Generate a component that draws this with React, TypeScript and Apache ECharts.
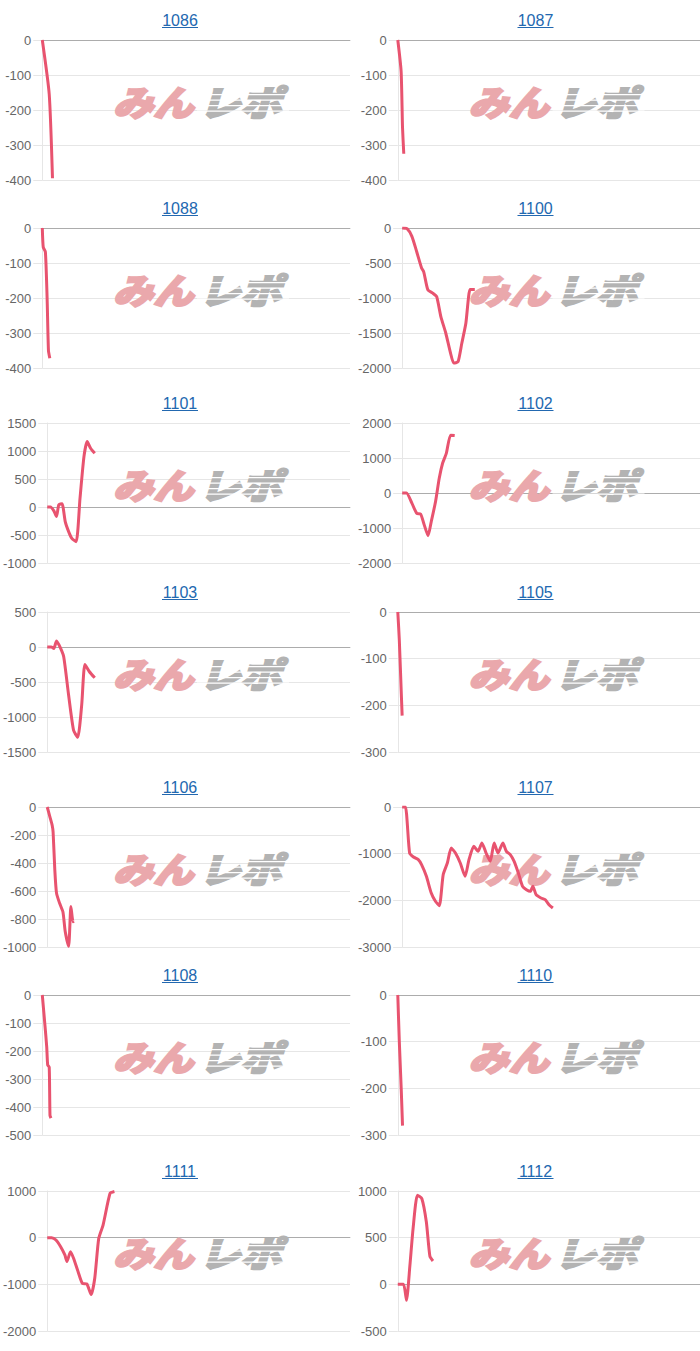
import React, { useEffect, useRef } from 'react';
import * as echarts from 'echarts';

// ---- data ----
const titles = ['1086', '1087', '1088', '1100', '1101', '1102', '1103', '1105', '1106', '1107', '1108', '1110', '1111', '1112'];
const yMax = [0, 0, 0, 0, 1500, 2000, 500, 0, 0, 0, 0, 0, 1000, 1000];
const yMin = [-400, -400, -400, -2000, -1000, -2000, -1500, -300, -1000, -3000, -500, -300, -2000, -500];
const yStep = [100, 100, 100, 500, 500, 1000, 500, 100, 200, 1000, 100, 100, 1000, 500];
const gamesMax = 8000;

// [games, medal difference]
const d1086 = [[0, 0], [180, -155], [265, -395]];
const d1087 = [[0, 0], [88, -90], [125, -250], [158, -325]];
const d1088 = [[0, 0], [25, -55], [80, -68], [125, -200], [160, -350], [195, -372]];
const d1100 = [[0, 0], [130, -10], [260, -120], [390, -340], [520, -570], [580, -630], [690, -885], [820, -930], [925, -980], [1040, -1270], [1170, -1500], [1300, -1790], [1385, -1930], [1500, -1910], [1600, -1650], [1710, -1360], [1820, -880], [1880, -880], [1950, -880]];
const d1101 = [[0, 0], [85, 0], [175, -70], [245, -170], [305, 40], [390, 60], [475, -260], [565, -440], [650, -560], [765, -620], [865, 150], [970, 900], [1055, 1170], [1145, 1050], [1255, 960]];
const d1102 = [[0, 0], [115, 0], [260, -290], [390, -580], [495, -600], [580, -870], [695, -1220], [780, -820], [895, -250], [995, 420], [1085, 850], [1185, 1130], [1300, 1650], [1410, 1640]];
const d1103 = [[0, 0], [105, 0], [175, -20], [245, 85], [345, -10], [435, -140], [565, -690], [695, -1190], [805, -1290], [910, -830], [995, -250], [1110, -350], [1255, -440]];
const d1105 = [[0, 0], [40, -60], [95, -180], [115, -222]];
const d1106 = [[0, 0], [70, -70], [130, -130], [155, -180], [200, -450], [245, -615], [330, -690], [415, -750], [475, -890], [565, -995], [625, -710], [680, -820], [700, -815]];
const d1107 = [[0, 0], [87, 0], [199, -986], [303, -1071], [433, -1129], [520, -1236], [650, -1486], [780, -1843], [893, -2021], [997, -2114], [1101, -1450], [1213, -1200], [1317, -879], [1430, -986], [1560, -1200], [1690, -1486], [1794, -1129], [1924, -843], [2037, -950], [2141, -771], [2253, -986], [2366, -1164], [2470, -771], [2574, -986], [2704, -771], [2799, -950], [2903, -1021], [3007, -1164], [3120, -1414], [3233, -1700], [3337, -1771], [3441, -1807], [3510, -1700], [3597, -1879], [3727, -1950], [3839, -1986], [3943, -2093], [4047, -2164]];
const d1108 = [[0, 0], [70, -110], [115, -185], [140, -250], [180, -258], [200, -430], [225, -440]];
const d1110 = [[0, 0], [40, -100], [90, -200], [125, -280]];
const d1111 = [[0, 0], [115, 0], [230, -50], [350, -190], [465, -370], [520, -510], [615, -300], [695, -440], [815, -730], [930, -980], [1045, -990], [1160, -1220], [1255, -870], [1360, -20], [1475, 270], [1660, 950], [1775, 990]];
const d1112 = [[0, 0], [150, 0], [230, -170], [320, 200], [405, 600], [520, 955], [635, 920], [755, 670], [850, 300], [930, 250]];

const seriesData = [d1086, d1087, d1088, d1100, d1101, d1102, d1103, d1105, d1106, d1107, d1108, d1110, d1111, d1112];

// ---- layout ----
const W = 700;
const H = 1351;
const rowTop = [40, 228, 423, 612, 807, 995, 1191];
const colX = [0, 355.5];
const colRight = [350, 705];
const plotH = 140;
const LINE = '#e8536f';
const GRID = '#e6e6e6';
const FONT = '"Liberation Sans", Arial, Helvetica, sans-serif';
const WM_FONT = 'italic 900 35px "Noto Sans CJK JP", sans-serif';

function buildOption() {
  const grid: any[] = [];
  const xAxis: any[] = [];
  const yAxis: any[] = [];
  const series: any[] = [];
  const graphic: any[] = [];

  titles.forEach((t, i) => {
    const r = Math.floor(i / 2);
    const c = i % 2;
    const top = rowTop[r];
    const longest = Math.max(String(yMin[i]).length, String(yMax[i]).length);
    const axisX = colX[c] + (longest >= 5 ? 46.7 : 42.3);
    grid.push({ left: axisX, top, width: colRight[c] - axisX, height: plotH, containLabel: false });
    xAxis.push({
      gridIndex: i, type: 'value', min: 0, max: gamesMax,
      axisLine: { show: true, onZero: true, lineStyle: { color: 'rgba(0,0,0,0.25)', width: 1 } },
      axisTick: { show: false }, axisLabel: { show: false }, splitLine: { show: false },
    });
    yAxis.push({
      gridIndex: i, type: 'value', min: yMin[i], max: yMax[i], interval: yStep[i],
      axisLine: { show: true, onZero: false, lineStyle: { color: GRID } },
      axisTick: { show: true, length: 9, lineStyle: { color: GRID } },
      axisLabel: {
        color: '#666', fontSize: 13, margin: 11, fontFamily: FONT,
        formatter: (v: number) => String(v),
      },
      splitLine: { show: true, lineStyle: { color: GRID, width: 1 } },
    });
    series.push({
      type: 'line', xAxisIndex: i, yAxisIndex: i, data: seriesData[i],
      showSymbol: false, symbol: 'none', smooth: 0.2, z: 5,
      lineStyle: { color: LINE, width: 3 },
    });

    const tx = colX[c] + 180;
    const ty = top - 20;
    graphic.push({
      type: 'text', x: tx, y: ty, z: 10,
      style: { text: t, fill: '#2268b0', font: `16px ${FONT}`, textAlign: 'center', textVerticalAlign: 'middle' },
    });
    graphic.push({
      type: 'line', z: 10,
      shape: { x1: tx - 18, y1: ty + 7.5, x2: tx + 18, y2: ty + 7.5 },
      style: { stroke: '#2268b0', lineWidth: 1 },
    });

    // watermark
    const wx = colX[c] + 113;
    const wy = top + 61;
    graphic.push({
      type: 'text', x: wx, y: wy, scaleX: 1.15, z: 1,
      style: {
        text: 'みん', fill: '#eaa8ac', stroke: '#eaa8ac', lineWidth: 2, lineJoin: 'miter',
        textAlign: 'left', textVerticalAlign: 'middle', font: WM_FONT,
      },
    });
    graphic.push({
      type: 'text', x: wx + 86, y: wy, scaleX: 1.18, z: 1,
      style: {
        text: 'レポ', fill: '#b3b3b3', stroke: '#b3b3b3', lineWidth: 2, lineJoin: 'miter',
        textAlign: 'left', textVerticalAlign: 'middle', font: WM_FONT,
      },
    });
    [-7, -1.5, 4, 9.5].forEach((off) => {
      graphic.push({
        type: 'rect', z: 2,
        shape: { x: wx + 84, y: wy + off, width: 92, height: 1.3 },
        style: { fill: '#ffffff' },
      });
    });
  });

  return { animation: false, backgroundColor: '#ffffff', grid, xAxis, yAxis, series, graphic };
}

export default function App() {
  const ref = useRef<HTMLDivElement>(null);
  useEffect(() => {
    document.body.style.margin = '0';
    const chart = echarts.init(ref.current!, undefined, { renderer: 'svg' });
    chart.setOption(buildOption());
    return () => chart.dispose();
  }, []);
  return <div ref={ref} style={{ width: W, height: H }} />;
}
